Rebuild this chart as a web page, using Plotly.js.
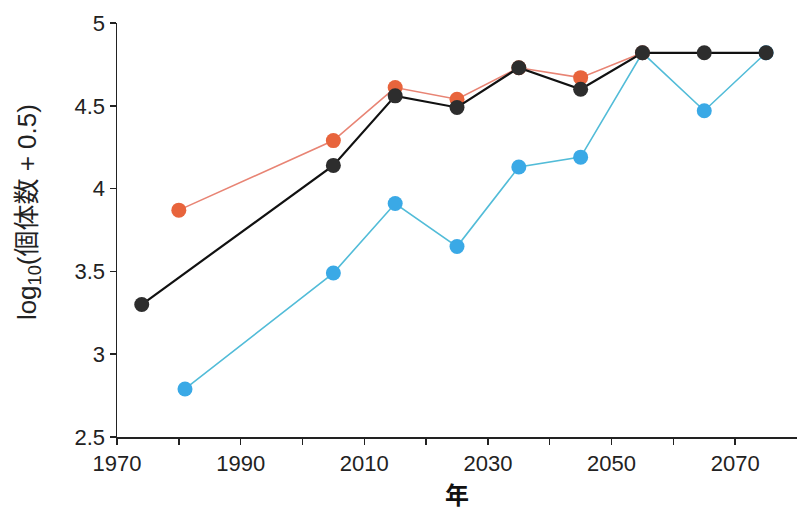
<!DOCTYPE html>
<html>
<head>
<meta charset="utf-8">
<script src="https://cdn.plot.ly/plotly-3.0.1.min.js"></script>
<style>html,body{margin:0;padding:0;background:#fff;}#chart{width:797px;height:516px;}</style>
</head>
<body>
<div id="chart"></div>
<script>
const blackYears = [1974, 2005, 2015, 2025, 2035, 2045, 2055, 2065, 2075];
const blackValues = [3.30, 4.14, 4.56, 4.49, 4.73, 4.60, 4.82, 4.82, 4.82];
const redYears = [1980, 2005, 2015, 2025, 2035, 2045, 2055];
const redValues = [3.87, 4.29, 4.61, 4.54, 4.73, 4.67, 4.82];
const blueYears = [1981, 2005, 2015, 2025, 2035, 2045, 2055, 2065, 2075];
const blueValues = [2.79, 3.49, 3.91, 3.65, 4.13, 4.19, 4.82, 4.47, 4.82];
const xTickVals = [1970, 1980, 1990, 2000, 2010, 2020, 2030, 2040, 2050, 2060, 2070];
const xTickText = ['1970', '', '1990', '', '2010', '', '2030', '', '2050', '', '2070'];
const yTickVals = [2.5, 3, 3.5, 4, 4.5, 5];
const yTickText = ['2.5', '3', '3.5', '4', '4.5', '5'];
const yTitle = 'log<sub>10</sub>(個体数 + 0.5)';
const xTitle = '<b>年</b>';

const font = 'Liberation Sans, Arial, sans-serif';
const traces = [
  {x: blueYears, y: blueValues, mode: 'lines+markers', line: {color: '#52bcd8', width: 1.6}, marker: {color: '#3aa9e6', size: 15}},
  {x: redYears, y: redValues, mode: 'lines+markers', line: {color: '#e88474', width: 1.6}, marker: {color: '#e8643c', size: 15}},
  {x: blackYears, y: blackValues, mode: 'lines+markers', line: {color: '#111111', width: 2.2}, marker: {color: '#2d2d2d', size: 15}}
];
const layout = {
  width: 797, height: 516,
  margin: {l: 117, r: 0, t: 23, b: 79},
  paper_bgcolor: '#fff', plot_bgcolor: '#fff',
  showlegend: false,
  font: {family: font, size: 22, color: '#222'},
  xaxis: {
    range: [1970, 2080], tickvals: xTickVals, ticktext: xTickText,
    ticks: 'outside', ticklen: 6, tickwidth: 1.5, tickcolor: '#222',
    showline: true, linecolor: '#222', linewidth: 1.5, showgrid: false, zeroline: false,
    tickfont: {family: font, size: 22, color: '#222'},
    title: {text: xTitle, font: {family: 'Noto Sans CJK JP', size: 24, color: '#111'}, standoff: 12}
  },
  yaxis: {
    range: [2.5, 5], tickvals: yTickVals, ticktext: yTickText,
    ticks: 'outside', ticklen: 6, tickwidth: 1.5, tickcolor: '#222',
    showline: true, linecolor: '#222', linewidth: 1.5, showgrid: false, zeroline: false,
    tickfont: {family: font, size: 22, color: '#222'}
  },
  annotations: [{
    text: yTitle, xref: 'paper', yref: 'paper', x: -0.131, y: 0.543,
    xanchor: 'center', yanchor: 'middle', textangle: -90, showarrow: false,
    font: {family: 'Liberation Sans, Noto Sans CJK JP', size: 26, color: '#222'}
  }]
};
Plotly.newPlot('chart', traces, layout, {displayModeBar: false, staticPlot: true});
</script>
</body>
</html>
